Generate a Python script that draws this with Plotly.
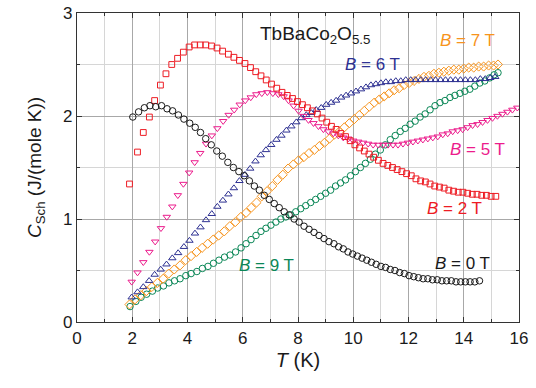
import plotly.graph_objects as go

# Schottky heat capacity of TbBaCo2O5.5 at several magnetic fields
T_0T = [2.02, 2.23, 2.44, 2.64, 2.85, 3.06, 3.26, 3.46, 3.67, 3.87, 4.08, 4.28, 4.47, 4.66,
        4.86, 5.06, 5.26, 5.46, 5.66, 5.86, 6.05, 6.24, 6.42, 6.60, 6.78, 6.96, 7.14, 7.32,
        7.50, 7.68, 7.86, 8.04, 8.22, 8.40, 8.58, 8.76, 8.94, 9.12, 9.30, 9.47, 9.64, 9.81,
        9.98, 10.15, 10.32, 10.49, 10.66, 10.83, 11.00, 11.17, 11.34, 11.51, 11.68, 11.85,
        12.02, 12.19, 12.36, 12.53, 12.70, 12.87, 13.04, 13.21, 13.38, 13.55, 13.72, 13.89,
        14.06, 14.23, 14.40, 14.57]
C_0T = [1.99, 2.04, 2.08, 2.10, 2.09, 2.10, 2.07, 2.05, 2.01, 1.97, 1.93, 1.89, 1.84, 1.78,
        1.72, 1.66, 1.61, 1.55, 1.50, 1.46, 1.42, 1.37, 1.32, 1.28, 1.23, 1.19, 1.15, 1.11,
        1.07, 1.04, 1.00, 0.97, 0.93, 0.90, 0.87, 0.84, 0.81, 0.78, 0.76, 0.73, 0.71, 0.68,
        0.66, 0.64, 0.62, 0.60, 0.58, 0.56, 0.54, 0.53, 0.51, 0.50, 0.48, 0.47,
        0.45, 0.44, 0.43, 0.42, 0.42, 0.41, 0.41, 0.40, 0.40, 0.40, 0.39, 0.39,
        0.39, 0.39, 0.39, 0.40]

T_2T = [1.90, 2.19, 2.40, 2.62, 2.81, 3.02, 3.22, 3.43, 3.64, 3.85, 4.06, 4.26, 4.46, 4.66,
        4.87, 5.07, 5.27, 5.48, 5.68, 5.88, 6.08, 6.28, 6.47, 6.66, 6.85, 7.04, 7.23, 7.42,
        7.61, 7.80, 7.98, 8.16, 8.34, 8.52, 8.70, 8.87, 9.04, 9.21, 9.38, 9.55, 9.72, 9.89,
        10.06, 10.23, 10.40, 10.57, 10.74, 10.91, 11.08, 11.25, 11.42, 11.59, 11.76, 11.93,
        12.10, 12.27, 12.44, 12.61, 12.78, 12.95, 13.12, 13.29, 13.46, 13.63, 13.80, 13.97,
        14.14, 14.31, 14.48, 14.65, 14.82, 14.99, 15.16]
C_2T = [1.34, 1.65, 1.84, 1.99, 2.15, 2.30, 2.41, 2.50, 2.56, 2.62, 2.67, 2.69, 2.69, 2.69,
        2.68, 2.66, 2.63, 2.60, 2.57, 2.54, 2.51, 2.47, 2.43, 2.39, 2.35, 2.31, 2.27, 2.23,
        2.20, 2.17, 2.14, 2.11, 2.08, 2.05, 2.02, 1.98, 1.94, 1.90, 1.87, 1.83, 1.80, 1.76,
        1.72, 1.69, 1.66, 1.63, 1.60, 1.57, 1.54, 1.52, 1.50, 1.48, 1.46, 1.44,
        1.42, 1.39, 1.37, 1.36, 1.34, 1.32, 1.31, 1.30, 1.28, 1.27, 1.26, 1.26,
        1.25, 1.24, 1.24, 1.23, 1.23, 1.22, 1.22]

T_5T = [1.98, 2.19, 2.40, 2.62, 2.83, 3.04, 3.25, 3.45, 3.65, 3.85, 4.06, 4.26, 4.46, 4.67,
        4.88, 5.08, 5.29, 5.49, 5.69, 5.89, 6.09, 6.29, 6.49, 6.69, 6.89, 7.09, 7.29, 7.48,
        7.66, 7.84, 8.02, 8.20, 8.38, 8.56, 8.74, 8.92, 9.10, 9.28, 9.46, 9.64, 9.82, 10.00,
        10.18, 10.36, 10.54, 10.72, 10.90, 11.08, 11.26, 11.44, 11.62, 11.80, 11.98, 12.16,
        12.34, 12.52, 12.70, 12.88, 13.06, 13.24, 13.42, 13.60, 13.78, 13.96, 14.14, 14.32,
        14.50, 14.68, 14.86, 15.04, 15.22, 15.40, 15.58, 15.76, 15.94]
C_5T = [0.39, 0.48, 0.58, 0.68, 0.78, 0.91, 1.02, 1.12, 1.23, 1.34, 1.45, 1.55, 1.64, 1.73,
        1.81, 1.88, 1.95, 2.01, 2.06, 2.11, 2.15, 2.18, 2.21, 2.22, 2.23, 2.22, 2.21, 2.19,
        2.15, 2.10, 2.05, 2.00, 1.96, 1.93, 1.90, 1.87, 1.85, 1.83, 1.81, 1.79, 1.78, 1.76,
        1.75, 1.74, 1.73, 1.72, 1.72, 1.72, 1.72, 1.72, 1.72, 1.73, 1.74, 1.75,
        1.76, 1.77, 1.78, 1.79, 1.80, 1.82, 1.83, 1.85, 1.86, 1.87, 1.89, 1.91,
        1.92, 1.94, 1.96, 1.98, 2.00, 2.02, 2.04, 2.06, 2.08]

T_6T = [1.98, 2.19, 2.40, 2.61, 2.81, 3.03, 3.24, 3.45, 3.66, 3.87, 4.07, 4.27, 4.47, 4.67,
        4.88, 5.08, 5.28, 5.48, 5.68, 5.88, 6.08, 6.27, 6.46, 6.65, 6.84, 7.03, 7.22, 7.40,
        7.58, 7.76, 7.94, 8.12, 8.30, 8.48, 8.66, 8.84, 9.02, 9.20, 9.38, 9.56, 9.74, 9.92,
        10.10, 10.28, 10.46, 10.64, 10.82, 11.00, 11.18, 11.36, 11.54, 11.72, 11.90, 12.08,
        12.26, 12.44, 12.62, 12.80, 12.98, 13.16, 13.34, 13.52, 13.70, 13.88, 14.06, 14.24,
        14.42, 14.60, 14.78, 14.96, 15.14]
C_6T = [0.24, 0.29, 0.34, 0.40, 0.46, 0.51, 0.56, 0.62, 0.67, 0.73, 0.79, 0.86, 0.92, 0.99,
        1.05, 1.12, 1.18, 1.24, 1.30, 1.37, 1.43, 1.49, 1.56, 1.62, 1.67, 1.72, 1.77, 1.81,
        1.86, 1.90, 1.94, 1.98, 2.01, 2.03, 2.06, 2.08, 2.11, 2.13, 2.15, 2.18, 2.20, 2.22,
        2.24, 2.26, 2.28, 2.30, 2.31, 2.32, 2.33, 2.33, 2.34, 2.34, 2.35, 2.35,
        2.35, 2.35, 2.35, 2.35, 2.35, 2.35, 2.35, 2.35, 2.35, 2.35, 2.35, 2.35,
        2.35, 2.36, 2.36, 2.37, 2.38]

T_7T = [1.90, 2.10, 2.31, 2.51, 2.71, 2.91, 3.12, 3.32, 3.52, 3.73, 3.93, 4.13, 4.33, 4.53,
        4.73, 4.93, 5.13, 5.33, 5.53, 5.73, 5.93, 6.12, 6.31, 6.50, 6.69, 6.88, 7.07, 7.26,
        7.45, 7.64, 7.83, 8.02, 8.21, 8.40, 8.59, 8.78, 8.96, 9.14, 9.32, 9.50, 9.68, 9.86,
        10.04, 10.22, 10.40, 10.58, 10.76, 10.94, 11.12, 11.30, 11.48, 11.66, 11.84, 12.02,
        12.20, 12.38, 12.56, 12.74, 12.92, 13.10, 13.28, 13.46, 13.64, 13.82, 14.00, 14.18,
        14.36, 14.54, 14.72, 14.90, 15.08, 15.24]
C_7T = [0.17, 0.22, 0.26, 0.30, 0.34, 0.38, 0.42, 0.47, 0.51, 0.55, 0.60, 0.64, 0.68, 0.72,
        0.76, 0.80, 0.84, 0.88, 0.93, 0.97, 1.02, 1.06, 1.11, 1.16, 1.22, 1.27, 1.32, 1.38,
        1.43, 1.49, 1.53, 1.57, 1.60, 1.64, 1.67, 1.71, 1.74, 1.78, 1.82, 1.85, 1.89, 1.93,
        1.97, 2.01, 2.05, 2.09, 2.13, 2.16, 2.19, 2.22, 2.25, 2.27, 2.30, 2.32,
        2.34, 2.36, 2.38, 2.39, 2.41, 2.42, 2.43, 2.44, 2.45, 2.45, 2.46, 2.47,
        2.47, 2.48, 2.48, 2.49, 2.49, 2.50]

T_9T = [1.92, 2.13, 2.32, 2.52, 2.73, 2.92, 3.13, 3.33, 3.53, 3.73, 3.94, 4.13, 4.34, 4.54,
        4.74, 4.94, 5.14, 5.34, 5.54, 5.74, 5.94, 6.12, 6.30, 6.48, 6.66, 6.84, 7.02, 7.20,
        7.38, 7.56, 7.74, 7.92, 8.10, 8.28, 8.46, 8.64, 8.82, 9.00, 9.18, 9.36, 9.54, 9.72,
        9.90, 10.08, 10.26, 10.44, 10.62, 10.80, 10.98, 11.16, 11.34, 11.52, 11.70, 11.88,
        12.06, 12.24, 12.42, 12.60, 12.78, 12.96, 13.14, 13.32, 13.50, 13.68, 13.86, 14.04,
        14.22, 14.40, 14.58, 14.76, 14.94, 15.10, 15.24]
C_9T = [0.15, 0.20, 0.24, 0.27, 0.30, 0.33, 0.35, 0.38, 0.40, 0.42, 0.45, 0.47, 0.49, 0.52,
        0.54, 0.57, 0.60, 0.63, 0.65, 0.68, 0.72, 0.76, 0.80, 0.84, 0.88, 0.91, 0.94, 0.97,
        1.00, 1.02, 1.04, 1.07, 1.10, 1.13, 1.16, 1.19, 1.22, 1.25, 1.28, 1.32, 1.35, 1.38,
        1.42, 1.46, 1.50, 1.54, 1.58, 1.63, 1.67, 1.72, 1.77, 1.81, 1.85, 1.88,
        1.92, 1.95, 1.99, 2.02, 2.06, 2.10, 2.13, 2.15, 2.18, 2.20, 2.22, 2.24,
        2.26, 2.29, 2.32, 2.34, 2.37, 2.40, 2.42]

FONT = "Liberation Sans, Arial, sans-serif"

series = [
    (T_9T, C_9T, "circle-open", "#0b8757", 6.5),
    (T_7T, C_7T, "diamond-open", "#f7941d", 7.0),
    (T_6T, C_6T, "triangle-up-open", "#2e3192", 6.5),
    (T_5T, C_5T, "triangle-down-open", "#ec1c8c", 6.5),
    (T_2T, C_2T, "square-open", "#ed1c24", 5.8),
    (T_0T, C_0T, "circle-open", "#1a1a1a", 6.5),
]

fig = go.Figure()
for T, C, sym, col, size in series:
    fig.add_trace(go.Scatter(
        x=T, y=C, mode="markers",
        marker=dict(symbol=sym, size=size, color=col, line=dict(width=1.0, color=col)),
    ))

# field labels placed beside their curves
labels = [
    (14.15, 2.73, "#f7941d", "<i>B</i> = 7 T"),
    (10.68, 2.50, "#2e3192", "<i>B</i> = 6 T"),
    (14.48, 1.67, "#ec1c8c", "<i>B</i> = 5 T"),
    (13.66, 1.10, "#ed1c24", "<i>B</i> = 2 T"),
    (6.87, 0.55, "#0b8757", "<i>B</i> = 9 T"),
    (13.94, 0.57, "#1a1a1a", "<i>B</i> = 0 T"),
]
for x, y, col, txt in labels:
    fig.add_annotation(x=x, y=y, text=txt, showarrow=False,
                       font=dict(family=FONT, size=17, color=col))

fig.add_annotation(x=8.6, y=2.79, text="TbBaCo<sub>2</sub>O<sub>5.5</sub>", showarrow=False,
                   font=dict(family=FONT, size=19, color="#1a1a1a"))

axis_common = dict(
    showline=True, linecolor="#333", linewidth=1.2, mirror="allticks",
    ticks="inside", ticklen=5, tickcolor="#333", showgrid=True, gridcolor="#a8a8a8",
    gridwidth=1, zeroline=False, automargin=False,
    tickfont=dict(family=FONT, size=17, color="#1a1a1a"),
)

fig.update_xaxes(
    range=[0, 16], dtick=2, tick0=0,
    minor=dict(dtick=1, showgrid=True, gridcolor="#d6d6d6", ticks="inside", ticklen=3,
               tickcolor="#333"),
    title=dict(text="<i>T</i> (K)", font=dict(family=FONT, size=20, color="#1a1a1a"),
               standoff=6),
    **axis_common,
)
fig.update_yaxes(
    range=[0, 3], dtick=1, tick0=0,
    minor=dict(dtick=0.5, showgrid=True, gridcolor="#d6d6d6", ticks="inside", ticklen=3,
               tickcolor="#333"),
    title=dict(text="<i>C</i><sub>Sch</sub> (J/(mole K))",
               font=dict(family=FONT, size=19, color="#1a1a1a"), standoff=16),
    **axis_common,
)

fig.update_layout(
    width=536, height=388,
    margin=dict(l=77, r=17, t=13, b=66),
    paper_bgcolor="white", plot_bgcolor="white",
    showlegend=False,
)

fig.write_html("out.html")
